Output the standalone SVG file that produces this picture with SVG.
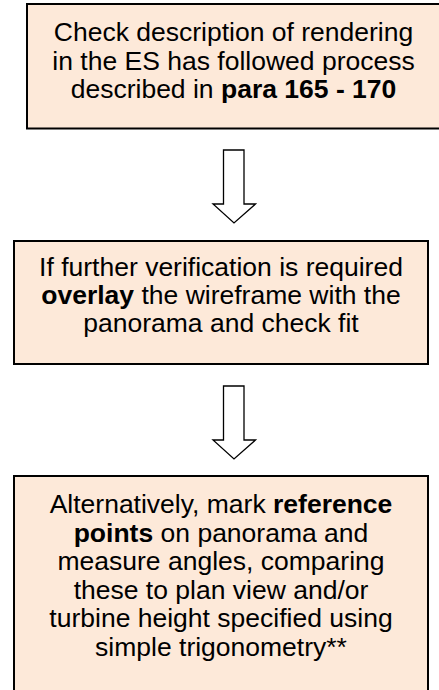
<svg xmlns="http://www.w3.org/2000/svg" width="439" height="690" viewBox="0 0 439 690">
<style>
.box{fill:#FDE9D9;stroke:#000;stroke-width:2}
.t{font-family:"Liberation Sans",Arial,sans-serif;font-size:26.5px;fill:#000;text-anchor:middle}
.b{font-weight:bold}
.arr{fill:#fff;stroke:#000;stroke-width:1.3;stroke-linejoin:miter}
</style>
<rect width="439" height="690" fill="#fff"/>
<g id="node1">
<rect class="box" x="27" y="4" width="414" height="124.5"/>
<text class="t" x="233.5" y="41">Check description of rendering</text>
<text class="t" x="233.5" y="69.5">in the ES has followed process</text>
<text class="t" x="233.5" y="98">described in <tspan class="b">para 165 - 170</tspan></text>
</g>
<g id="node2">
<rect class="box" x="14" y="241" width="414" height="123"/>
<text class="t" x="221" y="276">If further verification is required</text>
<text class="t" x="221" y="304"><tspan class="b">overlay</tspan> the wireframe with the</text>
<text class="t" x="221" y="332">panorama and check fit</text>
</g>
<g id="node3">
<rect class="box" x="14" y="476" width="414" height="220"/>
<text class="t" x="221" y="513">Alternatively, mark <tspan class="b">reference</tspan></text>
<text class="t" x="221" y="541.5"><tspan class="b">points</tspan> on panorama and</text>
<text class="t" x="221" y="570">measure angles, comparing</text>
<text class="t" x="221" y="598.5">these to plan view and/or</text>
<text class="t" x="221" y="627">turbine height specified using</text>
<text class="t" x="221" y="655.5">simple trigonometry**</text>
</g>
<g id="connectors">
<polygon class="arr" points="223.5,150 244,150 244,204 255.5,204 234,223 213,204 223.5,204"/>
<polygon class="arr" points="223.5,386 244,386 244,440 255.5,440 234,459 213,440 223.5,440"/>
</g>
</svg>
